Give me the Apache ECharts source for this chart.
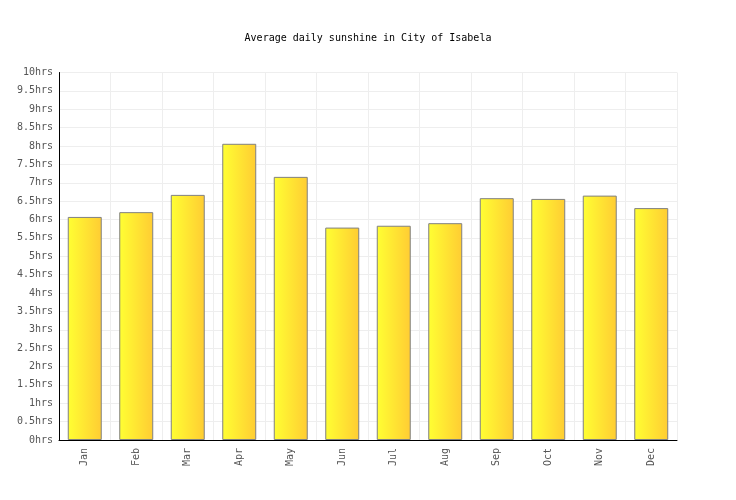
<!DOCTYPE html>
<html>
<head>
<meta charset="utf-8">
<script src="https://cdn.jsdelivr.net/npm/echarts@6/dist/echarts.min.js"></script>
<style>html,body{margin:0;padding:0;background:#fff}#c{width:736px;height:500px}</style>
</head>
<body>
<div id="c"></div>
<script>
const months = ['Jan','Feb','Mar','Apr','May','Jun','Jul','Aug','Sep','Oct','Nov','Dec'];
const sunshine = [6.07, 6.20, 6.67, 8.06, 7.16, 5.78, 5.83, 5.90, 6.58, 6.56, 6.65, 6.31];
const titleText = 'Average daily sunshine in City of Isabela';

const chart = echarts.init(document.getElementById('c'));
const font = '"DejaVu Sans Mono", "Liberation Mono", monospace';
chart.setOption({
  animation: false,
  backgroundColor: '#fff',
  title: {
    text: titleText, left: 'center', top: 28,
    textStyle: { fontFamily: font, fontSize: 10, fontWeight: 'normal', color: '#000' }
  },
  grid: { left: 59, right: 59, top: 72.5, bottom: 60 },
  xAxis: {
    type: 'category', data: months,
    axisLine: { lineStyle: { color: '#000', width: 1 } },
    axisTick: { show: false },
    axisLabel: { rotate: 90, color: '#555', fontFamily: font, fontSize: 10, margin: 8 },
    splitLine: { show: true, interval: 0, lineStyle: { color: '#eeeeee', width: 1 } }
  },
  yAxis: {
    type: 'value', min: 0, max: 10, interval: 0.5,
    axisLine: { show: true, lineStyle: { color: '#000', width: 1 } },
    axisTick: { show: false },
    axisLabel: { color: '#555', fontFamily: font, fontSize: 10, margin: 6, formatter: v => v + 'hrs' },
    splitLine: { show: true, lineStyle: { color: '#eeeeee', width: 1 } }
  },
  series: [{
    type: 'bar', data: sunshine, barWidth: '66%',
    itemStyle: {
      borderColor: '#808080', borderWidth: 1,
      color: new echarts.graphic.LinearGradient(0, 0, 1, 0, [
        { offset: 0, color: '#ffff33' }, { offset: 1, color: '#ffcc33' }
      ])
    }
  }]
});
</script>
</body>
</html>
